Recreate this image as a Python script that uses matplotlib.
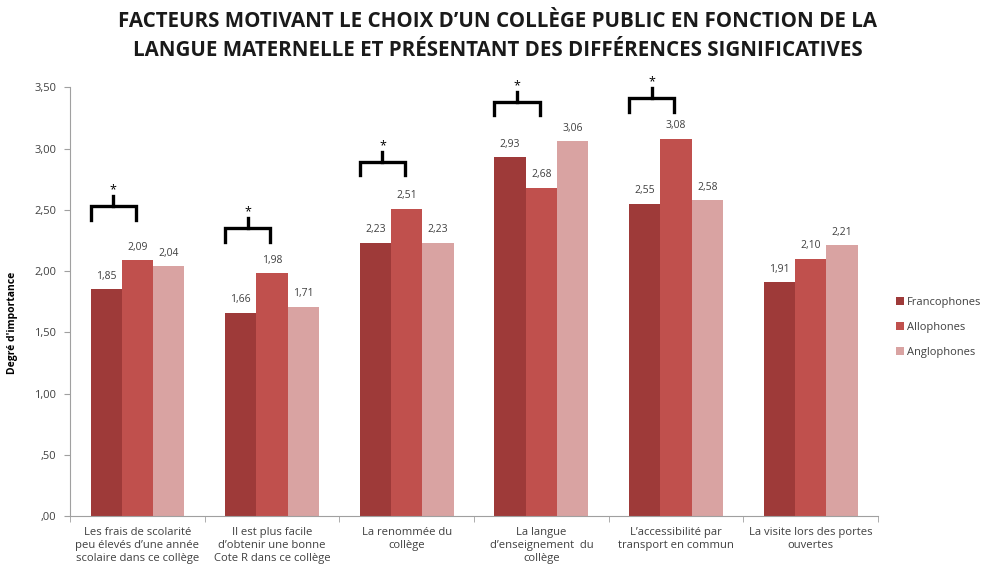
import numpy as np
import matplotlib.pyplot as plt

# Facteurs et moyennes par groupe linguistique
categories = [
    "Les frais de scolarité\npeu élevés d’une année\nscolaire dans ce collège",
    "Il est plus facile\nd’obtenir une bonne\nCote R dans ce collège",
    "La renommée du\ncollège",
    "La langue\nd’enseignement  du\ncollège",
    "L’accessibilité par\ntransport en commun",
    "La visite lors des portes\nouvertes",
]
groups = ["Francophones", "Allophones", "Anglophones"]
francophones = [1.85, 1.66, 2.23, 2.93, 2.55, 1.91]
allophones = [2.09, 1.98, 2.51, 2.68, 3.08, 2.10]
anglophones = [2.04, 1.71, 2.23, 3.06, 2.58, 2.21]
significant = [True, True, True, True, True, False]
bracket_levels = [2.53, 2.35, 2.89, 3.38, 3.41, None]

colors = ["#9E3A39", "#C0504D", "#D9A3A2"]
title = ("FACTEURS MOTIVANT LE CHOIX D’UN COLLÈGE PUBLIC EN FONCTION DE LA\n"
         "LANGUE MATERNELLE ET PRÉSENTANT DES DIFFÉRENCES SIGNIFICATIVES")

plt.rcParams["font.family"] = ["Open Sans", "DejaVu Sans"]

fig = plt.figure(figsize=(9.95, 5.74), dpi=100)
ax = fig.add_axes([0.0704, 0.101, 0.812, 0.747])

x = np.arange(len(categories))
w = 0.232
series = [francophones, allophones, anglophones]
for i, (vals, name, c) in enumerate(zip(series, groups, colors)):
    pos = x + (i - 1) * w
    ax.bar(pos, vals, width=w, color=c, label=name, zorder=2)
    for px, v in zip(pos, vals):
        ax.text(px, v + 0.06, f"{v:.2f}".replace(".", ","), ha="center",
                va="bottom", fontsize=7.5, color="#404040")

# crochets de signification entre francophones et allophones
for xi, sig, lvl in zip(x, significant, bracket_levels):
    if not sig:
        continue
    x0 = xi - 1.5 * w
    x1 = xi - 0.5 * w + 0.45 * w
    xm = (x0 + x1) / 2
    ax.plot([x0, x0, x1, x1], [lvl - 0.11, lvl, lvl, lvl - 0.11],
            color="black", lw=2.4, solid_joinstyle="miter", clip_on=False)
    ax.plot([xm, xm], [lvl, lvl + 0.08], color="black", lw=2.4, clip_on=False)
    ax.text(xm, lvl + 0.08, "*", ha="center", va="bottom", fontsize=9,
            color="black")

ax.set_xlim(-0.5, len(categories) - 0.5)
ax.set_ylim(0, 3.5)
yt = np.arange(0, 3.51, 0.5)
ax.set_yticks(yt)
ax.set_yticklabels([f"{v:.2f}".replace(".", ",").lstrip("0") if v < 1
                    else f"{v:.2f}".replace(".", ",") for v in yt],
                   fontsize=8, color="#404040")
ax.set_xticks(x)
ax.set_xticklabels(categories, fontsize=8.1, color="#404040", linespacing=1.25)
ax.set_xticks(np.arange(-0.5, len(categories)), minor=True)
ax.tick_params(axis="x", which="major", length=0, pad=8)
ax.tick_params(axis="x", which="minor", length=4, color="#A0A0A0")
ax.tick_params(axis="y", length=4, color="#A0A0A0", pad=6)

for s in ["top", "right"]:
    ax.spines[s].set_visible(False)
for s in ["left", "bottom"]:
    ax.spines[s].set_color("#A0A0A0")

ax.set_ylabel("Degré d'importance", fontsize=7.5, fontweight="bold")
ax.yaxis.set_label_coords(-0.064, 0.45)

ax.legend(loc="center left", bbox_to_anchor=(1.01, 0.44), frameon=False,
          fontsize=8, handlelength=0.7, handleheight=0.7, handletextpad=0.3,
          labelspacing=1.25, labelcolor="#404040")

fig.text(0.5, 0.98, title, ha="center", va="top", fontsize=14.8,
         fontweight="bold", color="#1a1a1a", linespacing=1.5)

fig.savefig("out.png", dpi=100)
